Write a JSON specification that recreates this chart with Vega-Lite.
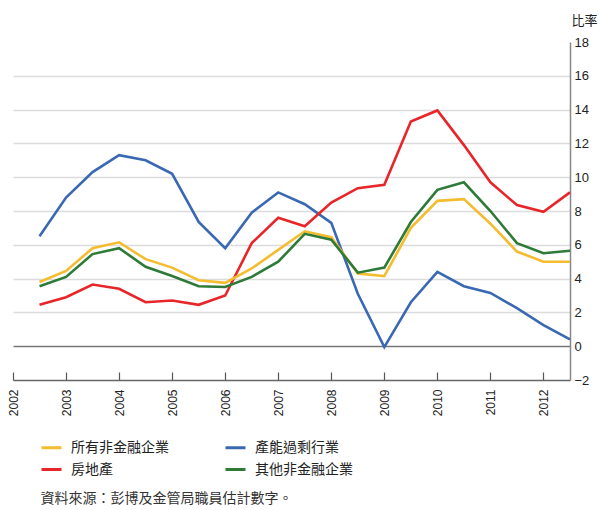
{
  "$schema": "https://vega.github.io/schema/vega-lite/v6.json",
  "width": 557,
  "height": 338,
  "autosize": {"type": "none"},
  "padding": {"left": 13, "top": 42, "right": 30, "bottom": 130},
  "background": "white",
  "config": {
    "view": {"stroke": null},
    "font": "Noto Sans CJK TC"
  },
  "data": {
    "values": [
      {"year": 2002.5, "series": "產能過剩行業", "value": 6.5},
      {"year": 2003.0, "series": "產能過剩行業", "value": 8.8},
      {"year": 2003.5, "series": "產能過剩行業", "value": 10.3},
      {"year": 2004.0, "series": "產能過剩行業", "value": 11.3},
      {"year": 2004.5, "series": "產能過剩行業", "value": 11.0},
      {"year": 2005.0, "series": "產能過剩行業", "value": 10.2},
      {"year": 2005.5, "series": "產能過剩行業", "value": 7.35},
      {"year": 2006.0, "series": "產能過剩行業", "value": 5.8},
      {"year": 2006.5, "series": "產能過剩行業", "value": 7.9},
      {"year": 2007.0, "series": "產能過剩行業", "value": 9.1},
      {"year": 2007.5, "series": "產能過剩行業", "value": 8.4},
      {"year": 2008.0, "series": "產能過剩行業", "value": 7.3},
      {"year": 2008.5, "series": "產能過剩行業", "value": 3.1},
      {"year": 2009.0, "series": "產能過剩行業", "value": -0.05},
      {"year": 2009.5, "series": "產能過剩行業", "value": 2.6},
      {"year": 2010.0, "series": "產能過剩行業", "value": 4.4},
      {"year": 2010.5, "series": "產能過剩行業", "value": 3.55},
      {"year": 2011.0, "series": "產能過剩行業", "value": 3.15},
      {"year": 2011.5, "series": "產能過剩行業", "value": 2.25},
      {"year": 2012.0, "series": "產能過剩行業", "value": 1.25},
      {"year": 2012.5, "series": "產能過剩行業", "value": 0.4},

      {"year": 2002.5, "series": "房地產", "value": 2.45},
      {"year": 2003.0, "series": "房地產", "value": 2.9},
      {"year": 2003.5, "series": "房地產", "value": 3.65},
      {"year": 2004.0, "series": "房地產", "value": 3.4},
      {"year": 2004.5, "series": "房地產", "value": 2.6},
      {"year": 2005.0, "series": "房地產", "value": 2.7},
      {"year": 2005.5, "series": "房地產", "value": 2.45},
      {"year": 2006.0, "series": "房地產", "value": 3.0},
      {"year": 2006.5, "series": "房地產", "value": 6.1},
      {"year": 2007.0, "series": "房地產", "value": 7.6},
      {"year": 2007.5, "series": "房地產", "value": 7.1},
      {"year": 2008.0, "series": "房地產", "value": 8.5},
      {"year": 2008.5, "series": "房地產", "value": 9.35},
      {"year": 2009.0, "series": "房地產", "value": 9.55},
      {"year": 2009.5, "series": "房地產", "value": 13.3},
      {"year": 2010.0, "series": "房地產", "value": 13.95},
      {"year": 2010.5, "series": "房地產", "value": 11.9},
      {"year": 2011.0, "series": "房地產", "value": 9.7},
      {"year": 2011.5, "series": "房地產", "value": 8.35},
      {"year": 2012.0, "series": "房地產", "value": 7.95},
      {"year": 2012.5, "series": "房地產", "value": 9.1},

      {"year": 2002.5, "series": "所有非金融企業", "value": 3.8},
      {"year": 2003.0, "series": "所有非金融企業", "value": 4.45},
      {"year": 2003.5, "series": "所有非金融企業", "value": 5.8},
      {"year": 2004.0, "series": "所有非金融企業", "value": 6.15},
      {"year": 2004.5, "series": "所有非金融企業", "value": 5.15},
      {"year": 2005.0, "series": "所有非金融企業", "value": 4.65},
      {"year": 2005.5, "series": "所有非金融企業", "value": 3.9},
      {"year": 2006.0, "series": "所有非金融企業", "value": 3.75},
      {"year": 2006.5, "series": "所有非金融企業", "value": 4.6},
      {"year": 2007.0, "series": "所有非金融企業", "value": 5.7},
      {"year": 2007.5, "series": "所有非金融企業", "value": 6.8},
      {"year": 2008.0, "series": "所有非金融企業", "value": 6.45},
      {"year": 2008.5, "series": "所有非金融企業", "value": 4.3},
      {"year": 2009.0, "series": "所有非金融企業", "value": 4.15},
      {"year": 2009.5, "series": "所有非金融企業", "value": 7.0},
      {"year": 2010.0, "series": "所有非金融企業", "value": 8.6},
      {"year": 2010.5, "series": "所有非金融企業", "value": 8.7},
      {"year": 2011.0, "series": "所有非金融企業", "value": 7.25},
      {"year": 2011.5, "series": "所有非金融企業", "value": 5.6},
      {"year": 2012.0, "series": "所有非金融企業", "value": 5.0},
      {"year": 2012.5, "series": "所有非金融企業", "value": 5.0},

      {"year": 2002.5, "series": "其他非金融企業", "value": 3.55},
      {"year": 2003.0, "series": "其他非金融企業", "value": 4.1},
      {"year": 2003.5, "series": "其他非金融企業", "value": 5.45},
      {"year": 2004.0, "series": "其他非金融企業", "value": 5.8},
      {"year": 2004.5, "series": "其他非金融企業", "value": 4.7},
      {"year": 2005.0, "series": "其他非金融企業", "value": 4.15},
      {"year": 2005.5, "series": "其他非金融企業", "value": 3.55},
      {"year": 2006.0, "series": "其他非金融企業", "value": 3.5},
      {"year": 2006.5, "series": "其他非金融企業", "value": 4.1},
      {"year": 2007.0, "series": "其他非金融企業", "value": 5.0},
      {"year": 2007.5, "series": "其他非金融企業", "value": 6.65},
      {"year": 2008.0, "series": "其他非金融企業", "value": 6.3},
      {"year": 2008.5, "series": "其他非金融企業", "value": 4.35},
      {"year": 2009.0, "series": "其他非金融企業", "value": 4.65},
      {"year": 2009.5, "series": "其他非金融企業", "value": 7.35},
      {"year": 2010.0, "series": "其他非金融企業", "value": 9.25},
      {"year": 2010.5, "series": "其他非金融企業", "value": 9.7},
      {"year": 2011.0, "series": "其他非金融企業", "value": 8.0},
      {"year": 2011.5, "series": "其他非金融企業", "value": 6.1},
      {"year": 2012.0, "series": "其他非金融企業", "value": 5.5},
      {"year": 2012.5, "series": "其他非金融企業", "value": 5.65}
    ]
  },
  "mark": {"type": "line", "strokeWidth": 2.6, "clip": false},
  "encoding": {
    "x": {
      "field": "year",
      "type": "quantitative",
      "scale": {"domain": [2002, 2012.5], "nice": false, "zero": false},
      "axis": {
        "title": "資料來源：彭博及金管局職員估計數字。",
        "titleX": 27,
        "titleY": 118,
        "titleAlign": "left",
        "titleAnchor": "start",
        "titleBaseline": "middle",
        "titleFont": "Noto Sans CJK TC",
        "titleFontSize": 14,
        "titleFontWeight": "normal",
        "titleColor": "#333",
        "values": [2002, 2003, 2004, 2005, 2006, 2007, 2008, 2009, 2010, 2011, 2012],
        "format": "d",
        "labelAngle": 270,
        "labelFont": "Liberation Sans",
        "labelFontSize": 12,
        "labelColor": "#222",
        "labelPadding": 17,
        "tickSize": -8,
        "tickColor": "#555",
        "tickWidth": 1.2,
        "domainColor": "#666",
        "domainWidth": 1.5,
        "grid": false
      }
    },
    "y": {
      "field": "value",
      "type": "quantitative",
      "scale": {"domain": [-2, 18], "nice": false},
      "axis": {
        "orient": "right",
        "values": [-2, 0, 2, 4, 6, 8, 10, 12, 14, 16, 18],
        "title": "比率",
        "titleAngle": 0,
        "titleX": 14,
        "titleY": -22,
        "titleAlign": "center",
        "titleBaseline": "middle",
        "titleFont": "Noto Sans CJK TC",
        "titleFontSize": 13,
        "titleFontWeight": "normal",
        "titleColor": "#222",
        "labelFont": "Liberation Sans",
        "labelFontSize": 13,
        "labelColor": "#222",
        "labelPadding": 4,
        "ticks": false,
        "domainColor": "#888",
        "domainWidth": 1.5,
        "grid": true,
        "gridColor": {"condition": {"test": "datum.value === 0", "value": "#777"}, "value": "#dcdcdc"},
        "gridOpacity": {"condition": {"test": "datum.value === 18 || datum.value === -2", "value": 0}, "value": 1},
        "gridWidth": 1.5
      }
    },
    "color": {
      "field": "series",
      "type": "nominal",
      "scale": {
        "domain": ["所有非金融企業", "房地產", "產能過剩行業", "其他非金融企業"],
        "range": ["#F4BC2F", "#E8262A", "#3A68B2", "#2E7A38"]
      },
      "legend": {
        "title": null,
        "orient": "none",
        "legendX": 27,
        "legendY": 394,
        "columns": 2,
        "columnPadding": 50,
        "rowPadding": 3,
        "symbolType": "stroke",
        "symbolSize": 400,
        "symbolStrokeWidth": 3,
        "labelFont": "Noto Sans CJK TC",
        "labelFontSize": 14,
        "labelColor": "#222",
        "labelOffset": 8
      }
    }
  }
}
